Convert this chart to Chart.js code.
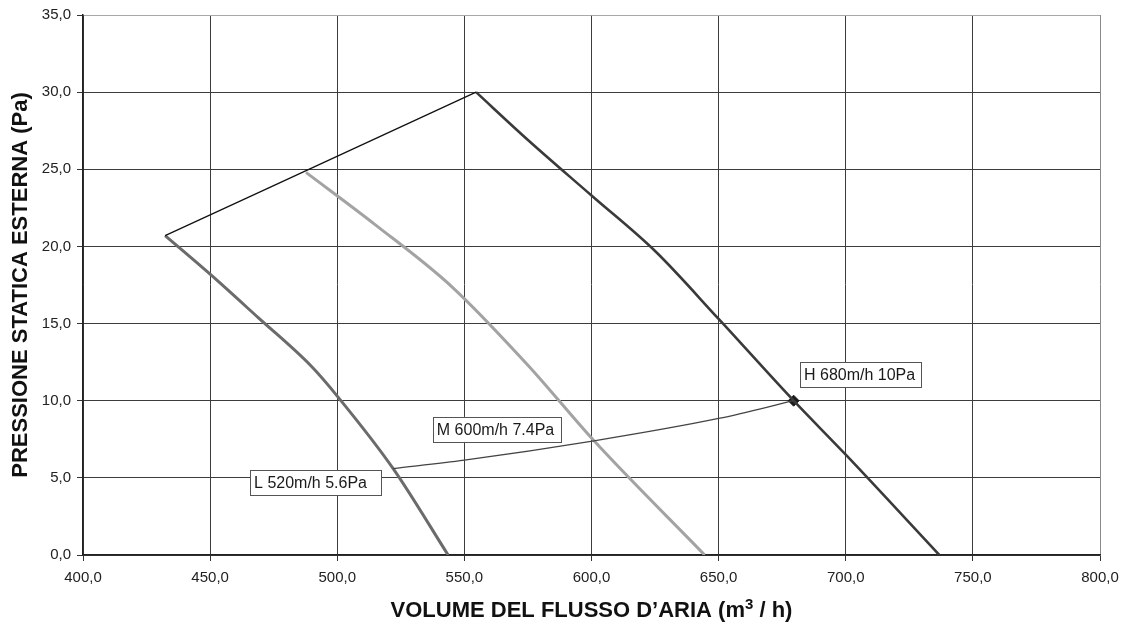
<!DOCTYPE html>
<html>
<head>
<meta charset="utf-8">
<script src="https://cdn.jsdelivr.net/npm/chart.js@4/dist/chart.umd.min.js"></script>
<style>
  html, body { margin: 0; padding: 0; background: #ffffff; }
  #wrap { width: 1123px; height: 628px; }
</style>
</head>
<body>
<div id="wrap"><canvas id="chart" width="1123" height="628"></canvas></div>
<script>
// Fan curves: air flow (m3/h) against external static pressure (Pa)
const highFlow = [554.6, 575, 600, 625, 650, 679.5, 700, 736.8];
const highPressure = [30.0, 26.9, 23.3, 19.7, 15.3, 10.0, 6.5, 0.0];

const mediumFlow = [487.7, 515, 545, 575, 601, 644.5];
const mediumPressure = [24.8, 21.4, 17.4, 12.3, 7.4, 0.0];

const lowFlow = [432.3, 450, 468.8, 490, 500, 522, 543.6];
const lowPressure = [20.7, 18.2, 15.4, 12.2, 10.3, 5.6, 0.0];

// Upper envelope joining the start of the low and high speed curves
const envelopeFlow = [432.3, 554.6];
const envelopePressure = [20.7, 30.0];

// System resistance curve through the three working points
const systemFlow = [522, 550, 601, 650, 679.5];
const systemPressure = [5.6, 6.15, 7.4, 8.85, 10.0];

// Rated duty point
const dutyFlow = [679.5];
const dutyPressure = [10.0];

// Working point labels
const speedLabels = ['H 680m/h 10Pa', 'M 600m/h 7.4Pa', 'L 520m/h 5.6Pa'];

// Axis titles (x title carries a superscript exponent)
const yTitle = 'PRESSIONE STATICA ESTERNA (Pa)';
const xTitleParts = ['VOLUME DEL FLUSSO D\u2019ARIA (m', '3', ' / h)'];

// Axis ranges and tick spacing
const flowRange = [400, 800];
const flowStep = 50;
const pressureRange = [0, 35];
const pressureStep = 5;

const toPoints = (xs, ys) => xs.map((x, i) => ({ x: x, y: ys[i] }));
const commaDecimal = v => Number(v).toFixed(1).replace('.', ',');

const FONT = '"Liberation Sans", Arial, Helvetica, sans-serif';

// Boxed working-point labels, anchored at flow / pressure coordinates (top-left corner)
const labelBoxes = {
  id: 'labelBoxes',
  afterDatasetsDraw(chart, args, opts) {
    const { ctx, scales: { x, y } } = chart;
    ctx.save();
    ctx.font = '16px ' + FONT;
    ctx.textBaseline = 'middle';
    ctx.textAlign = 'left';
    opts.items.forEach(item => {
      const left = x.getPixelForValue(item.flow);
      const top = y.getPixelForValue(item.pressure);
      const w = ctx.measureText(item.text).width + item.padRight + 4;
      const h = 25;
      ctx.fillStyle = '#ffffff';
      ctx.fillRect(left, top, w, h);
      ctx.strokeStyle = '#555555';
      ctx.lineWidth = 1;
      ctx.strokeRect(Math.round(left) + 0.5, Math.round(top) + 0.5, Math.round(w), h);
      ctx.fillStyle = '#1a1a1a';
      ctx.fillText(item.text, left + 4, top + h / 2 + 1);
    });
    ctx.restore();
  }
};

// Horizontal axis title with a raised exponent, centred under the plot area
const flowTitle = {
  id: 'flowTitle',
  afterDraw(chart, args, opts) {
    const { ctx, chartArea } = chart;
    const base = 'bold 22px ' + FONT;
    const sup = 'bold 15px ' + FONT;
    ctx.save();
    ctx.fillStyle = '#111111';
    ctx.textBaseline = 'alphabetic';
    ctx.textAlign = 'left';
    ctx.font = base;
    const w0 = ctx.measureText(opts.parts[0]).width;
    const w2 = ctx.measureText(opts.parts[2]).width;
    ctx.font = sup;
    const w1 = ctx.measureText(opts.parts[1]).width;
    const total = w0 + w1 + w2;
    let xPos = (chartArea.left + chartArea.right) / 2 - total / 2;
    const yPos = opts.baseline;
    ctx.font = base;
    ctx.fillText(opts.parts[0], xPos, yPos);
    xPos += w0;
    ctx.font = sup;
    ctx.fillText(opts.parts[1], xPos, yPos - 8);
    xPos += w1;
    ctx.font = base;
    ctx.fillText(opts.parts[2], xPos, yPos);
    ctx.restore();
  }
};

const lineSet = (label, xs, ys, color, width) => ({
  label: label,
  data: toPoints(xs, ys),
  showLine: true,
  borderColor: color,
  borderWidth: width,
  pointRadius: 0,
  fill: false,
  cubicInterpolationMode: 'monotone',
  borderJoinStyle: 'round'
});

new Chart(document.getElementById('chart'), {
  type: 'scatter',
  data: {
    datasets: [
      lineSet('Envelope', envelopeFlow, envelopePressure, '#111111', 1.3),
      lineSet('System', systemFlow, systemPressure, '#444444', 1.3),
      lineSet('L', lowFlow, lowPressure, '#6b6b6b', 3),
      lineSet('M', mediumFlow, mediumPressure, '#a3a3a3', 3),
      lineSet('H', highFlow, highPressure, '#3a3a3a', 2.6),
      {
        label: 'Duty',
        data: toPoints(dutyFlow, dutyPressure),
        showLine: false,
        pointStyle: 'rectRot',
        pointRadius: 5.5,
        backgroundColor: '#1a1a1a',
        borderColor: '#1a1a1a',
        borderWidth: 1
      }
    ]
  },
  options: {
    responsive: false,
    animation: false,
    layout: { padding: { top: 15, right: 23, left: 0, bottom: 0 } },
    plugins: {
      legend: { display: false },
      tooltip: { enabled: false },
      labelBoxes: {
        items: [
          { text: speedLabels[0], flow: 682.0, pressure: 12.5, padRight: 6 },
          { text: speedLabels[1], flow: 537.6, pressure: 8.95, padRight: 7 },
          { text: speedLabels[2], flow: 465.7, pressure: 5.5, padRight: 14 }
        ]
      },
      flowTitle: { parts: xTitleParts, baseline: 617 }
    },
    scales: {
      x: {
        type: 'linear',
        min: flowRange[0],
        max: flowRange[1],
        ticks: {
          stepSize: flowStep,
          callback: commaDecimal,
          color: '#222222',
          font: { family: FONT, size: 15 },
          padding: 8,
          maxRotation: 0
        },
        grid: {
          color: c => (c.tick && c.tick.value === flowRange[1]) ? '#8a8a8a' : '#3c3c3c',
          lineWidth: 1,
          tickLength: 6,
          tickColor: '#333333'
        },
        border: { color: '#222222', width: 1.5 },
        afterFit: s => { s.height = 73; s.paddingLeft = 0; s.paddingRight = 0; }
      },
      y: {
        type: 'linear',
        min: pressureRange[0],
        max: pressureRange[1],
        ticks: {
          stepSize: pressureStep,
          callback: commaDecimal,
          color: '#222222',
          font: { family: FONT, size: 15 },
          padding: 6
        },
        grid: {
          color: c => (c.tick && c.tick.value === pressureRange[1]) ? '#a8a8a8' : '#3c3c3c',
          lineWidth: 1,
          tickLength: 6,
          tickColor: '#333333'
        },
        border: { color: '#222222', width: 1.5 },
        title: {
          display: true,
          text: yTitle,
          color: '#111111',
          font: { family: FONT, size: 22, weight: 'bold' },
          padding: { top: 8, bottom: 0 }
        },
        afterFit: s => { s.width = 83; s.paddingTop = 0; s.paddingBottom = 0; }
      }
    }
  },
  plugins: [labelBoxes, flowTitle]
});
</script>
</body>
</html>
